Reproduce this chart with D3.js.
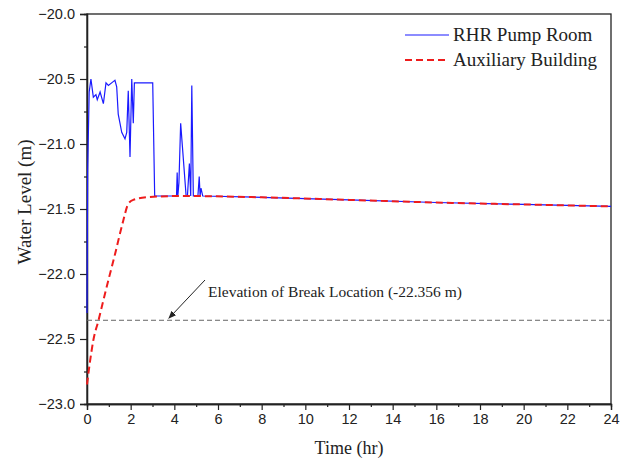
<!DOCTYPE html>
<html>
<head>
<meta charset="utf-8">
<script src="https://cdn.jsdelivr.net/npm/d3@7"></script>
<style>
  body { margin: 0; background: #fff; }
  text { fill: #222; }
</style>
</head>
<body>
<div id="chart"></div>
<script>
// RHR pump room water level (hr, m)
const rhrTime = [0, 0.03, 0.1, 0.18, 0.29, 0.41, 0.47, 0.6, 0.75, 0.87, 0.98, 1.2, 1.28, 1.36, 1.43, 1.51, 1.59,
    1.74, 1.82, 1.89, 1.97, 2.05, 2.12, 2.17, 3.01, 3.1, 4.1, 4.13, 4.16, 4.21, 4.29, 4.37, 4.54, 4.6, 4.69,
    4.75, 4.8, 4.87, 5.08, 5.14, 5.18, 5.22, 5.3, 8, 12, 16, 20, 24];
const rhrLevel = [-22.3, -21.2, -20.6, -20.5, -20.64, -20.62, -20.66, -20.6, -20.69, -20.53, -20.55, -20.52, -20.51,
    -20.56, -20.77, -20.84, -20.91, -20.96, -20.91, -20.59, -21.1, -20.5, -20.84, -20.53, -20.53, -21.4, -21.4,
    -21.22, -21.4, -21.3, -20.84, -21.02, -21.4, -21.4, -21.15, -21.4, -20.55, -21.4, -21.4, -21.25, -21.4,
    -21.34, -21.4, -21.41, -21.43, -21.45, -21.465, -21.48];

// auxiliary building water level (hr, m)
const auxTime = [0, 0.14, 0.29, 0.52, 0.9, 1.28, 1.66, 1.89, 2.12, 2.73, 4.26, 8, 12, 16, 20, 24];
const auxLevel = [-22.85, -22.67, -22.51, -22.36, -22.10, -21.85, -21.59, -21.46, -21.43, -21.41, -21.40, -21.41,
    -21.43, -21.45, -21.465, -21.48];

const breakLevel = -22.356;
const xTicks = d3.range(0, 25, 2);
const yTicks = [-23.0, -22.5, -22.0, -21.5, -21.0, -20.5, -20.0];
const seriesNames = ['RHR Pump Room', 'Auxiliary Building'];

const width = 627, height = 463;
const margin = {top: 14, right: 16, bottom: 59, left: 87};

const svg = d3.select('#chart').append('svg')
    .attr('width', width)
    .attr('height', height);

const x = d3.scaleLinear().domain([0, 24]).range([margin.left, width - margin.right]);
const y = d3.scaleLinear().domain([-23, -20]).range([height - margin.bottom, margin.top]);

// frame
svg.append('rect')
    .attr('x', x(0)).attr('y', y(-20))
    .attr('width', x(24) - x(0)).attr('height', y(-23) - y(-20))
    .attr('fill', 'none').attr('stroke', '#222').attr('stroke-width', 1.3);

// axes
svg.append('g')
    .attr('transform', 'translate(0,' + y(-23) + ')')
    .call(d3.axisBottom(x).tickValues(xTicks).tickSize(6).tickPadding(4).tickFormat(d3.format('d')));
svg.append('g')
    .attr('transform', 'translate(0,' + y(-23) + ')')
    .call(d3.axisBottom(x).tickValues(d3.range(1, 24, 2)).tickSize(3).tickFormat(''));

svg.append('g')
    .attr('transform', 'translate(' + x(0) + ',0)')
    .call(d3.axisLeft(y).tickValues(yTicks).tickSize(7).tickPadding(5).tickFormat(d3.format('.1f')));
svg.append('g')
    .attr('transform', 'translate(' + x(0) + ',0)')
    .call(d3.axisLeft(y).tickValues(d3.range(-22.75, -20, 0.5)).tickSize(3).tickFormat(''));

svg.selectAll('.domain').attr('stroke', '#222').attr('stroke-width', 1.3);
svg.selectAll('.tick line').attr('stroke', '#222').attr('stroke-width', 1.2);
svg.selectAll('.tick text')
    .style('font-family', '"Liberation Sans", Arial, sans-serif')
    .style('font-size', '14.5px')
    .attr('fill', '#222');

// axis titles
svg.append('text')
    .attr('x', (x(0) + x(24)) / 2).attr('y', 454)
    .attr('text-anchor', 'middle')
    .style('font-family', '"Liberation Serif", "Times New Roman", serif')
    .style('font-size', '18px')
    .text('Time (hr)');

svg.append('text')
    .attr('transform', 'translate(31,202) rotate(-90)')
    .attr('text-anchor', 'middle')
    .style('font-family', '"Liberation Serif", "Times New Roman", serif')
    .style('font-size', '19px')
    .text('Water Level (m)');

// break elevation line
svg.append('line')
    .attr('x1', x(0)).attr('x2', x(24))
    .attr('y1', y(breakLevel)).attr('y2', y(breakLevel))
    .attr('stroke', '#666').attr('stroke-width', 1).attr('stroke-dasharray', '5,3');

svg.append('defs').append('marker')
    .attr('id', 'arrow')
    .attr('viewBox', '0 0 10 10')
    .attr('refX', 9).attr('refY', 5)
    .attr('markerWidth', 8).attr('markerHeight', 8)
    .attr('orient', 'auto')
    .append('path')
    .attr('d', 'M0,1 L10,5 L0,9 Z')
    .attr('fill', '#222');

svg.append('line')
    .attr('x1', 205).attr('y1', 280)
    .attr('x2', x(3.75)).attr('y2', y(breakLevel) - 2)
    .attr('stroke', '#222').attr('stroke-width', 1)
    .attr('marker-end', 'url(#arrow)');

svg.append('text')
    .attr('x', 208).attr('y', 297)
    .style('font-family', '"Liberation Serif", "Times New Roman", serif')
    .style('font-size', '15.5px')
    .text('Elevation of Break Location (' + breakLevel + ' m)');

// series
const line = d3.line()
    .x((d) => x(d[0]))
    .y((d) => y(d[1]));

svg.append('path')
    .datum(rhrTime.map((t, i) => [t, rhrLevel[i]]))
    .attr('d', line)
    .attr('fill', 'none')
    .attr('stroke', '#1a1aff')
    .attr('stroke-width', 1.2);

svg.append('path')
    .datum(auxTime.map((t, i) => [t, auxLevel[i]]))
    .attr('d', d3.line().curve(d3.curveMonotoneX).x((d) => x(d[0])).y((d) => y(d[1])))
    .attr('fill', 'none')
    .attr('stroke', '#ee1c1c')
    .attr('stroke-width', 2)
    .attr('stroke-dasharray', '7,4');

// legend
const legend = svg.append('g');
const legendStyles = [
    {color: '#1a1aff', dash: null, w: 1.2},
    {color: '#ee1c1c', dash: '7,4', w: 2}
];
seriesNames.forEach((name, i) => {
    const ly = 35 + i * 25;
    legend.append('line')
        .attr('x1', 405).attr('x2', 449)
        .attr('y1', ly).attr('y2', ly)
        .attr('stroke', legendStyles[i].color)
        .attr('stroke-width', legendStyles[i].w)
        .attr('stroke-dasharray', legendStyles[i].dash);
    legend.append('text')
        .attr('x', 453).attr('y', ly + 6)
        .style('font-family', '"Liberation Serif", "Times New Roman", serif')
        .style('font-size', '19px')
        .text(name);
});
</script>
</body>
</html>
